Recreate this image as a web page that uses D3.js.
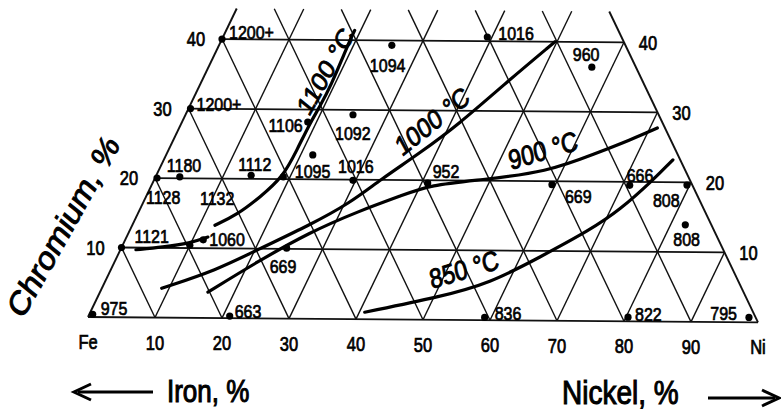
<!DOCTYPE html>
<html>
<head>
<meta charset="utf-8">
<script src="https://cdn.jsdelivr.net/npm/d3@7"></script>
<style>
  body { margin: 0; background: #fff; }
  text { font-family: "Liberation Sans", Arial, sans-serif; fill: #000; stroke: #000; stroke-width: 0.6; }
  .title { stroke-width: 0.9; }
  .iso { stroke-width: 0.8; }
</style>
</head>
<body>
<div id="app"></div>
<script>
// grid of the ternary diagram (percent)
const gridSteps = [10, 20, 30, 40, 50, 60, 70, 80, 90];
const crLevels = [10, 20, 30, 40];
const crTop = 44.4;

// tick labels
const bottomTickNi = [0, 10, 20, 30, 40, 50, 60, 70, 80, 90, 100];
const bottomTicks = ["Fe", "10", "20", "30", "40", "50", "60", "70", "80", "90", "Ni"];
const sideTicks = [10, 20, 30, 40];

// measured alloys: nickel %, chromium %, temperature label
const pointNi = [0.5, 21, 59, 80.3, 98.3, 0, 11.6, 10, 24.6, 0.3, 3.6, 14.1, 10, 0.3, 0, 18.7, 24.9, 25.7, 21.8, 29.6, 39.3, 57.0, 40.9, 59.5, 71.1, 79.6, 82.2, 19];
const pointCr = [0.4, 0.3, 0.4, 0.6, 0.7, 10, 11.2, 10.4, 10.1, 20, 20.2, 20.5, 20, 30, 40, 28.2, 29.3, 39.3, 23.5, 19.9, 40.6, 36.4, 19.6, 19.5, 19.5, 19.6, 13.9, 20.3];
const pointTemp = ["975", "663", "836", "822", "795", "1121", "1060", "", "669", "1128", "1180", "1112", "1132", "1200+", "1200+", "1106", "1092", "1094", "1095", "1016", "1016", "960", "952", "669", "666", "808", "808", ""];
const pointMarked = [1, 1, 1, 1, 1, 1, 1, 1, 1, 1, 1, 1, 0, 1, 1, 1, 1, 1, 1, 1, 1, 1, 1, 1, 1, 1, 1, 1];

// isotherms: [nickel %, chromium %]
const iso1100a = [[2.3, 9.7], [6.1, 10.1], [9.9, 10.7], [12.1, 11.6]];
const iso1100b = [[12.3, 13.3], [14.8, 14.8], [17.0, 17.4], [18.95, 20.3], [19.1, 24.2], [19.1, 28.1], [19.4, 30.4], [19.5, 33.8], [19.3, 37.1], [19.1, 40.0], [19.1, 41.4]];
const iso1000 = [[8.9, 4.2], [15.8, 6.9], [20.3, 9.8], [26.4, 13.45], [30.8, 16.65], [33.6, 20.0], [37.6, 23.9], [41.4, 28.2], [45.1, 33.7], [49.7, 40.0]];
const iso900 = [[16.05, 3.7], [21.2, 8.1], [26.9, 12.4], [32.5, 15.4], [38.1, 17.85], [41.4, 19.3], [48.5, 20.1], [57.85, 21.3], [63.9, 24.1], [67.9, 26.0], [71.1, 27.75]];
const iso850 = [[40.8, 1.0], [50.9, 3.3], [57.3, 5.3], [62.9, 9.1], [68.4, 13.05], [71.4, 15.95], [74.2, 20.3], [75.7, 23.2]];
const isoCurves = [iso1100a, iso1100b, iso1000, iso900, iso850];
const isoText = ["1100 °C", "1000 °C", "900 °C", "850 °C"];

// label placement (pixels)
const pointLabelOffset = [[8, 1], [5, 2], [10, 3], [7, 4], [-12, 3, "end"], [13, -5], [6, 6], null, [-17, 25], [-11, 26], [-13, -5], [-13, -4], [-22, 26], [6, 2], [7, 0], [-5, 10, "end"], [-18, 25], [-22, 27], [-18, 23], [-15, -7], [11, 3], [-19, -6], [5, -5], [13, 18], [-3, -3], [-34, 22], [-12, 21], null];
const isoLayout = [{x: 325, y: 71, a: -56}, {x: 432, y: 121, a: -33.7}, {x: 543, y: 150, a: -14}, {x: 464, y: 269, a: -14}];

const stretch = 1.2;

let svg = d3.select("#app")
.append("svg")
    .attr("width", 781)
    .attr("height", 415)

// composition -> page
let xs = d3.scaleLinear().domain([0, 100]).range([88, 758]);
let ys = d3.scaleLinear().domain([0, 40]).range([317, 38]);
const tilt = 0.008;
function P(ni, cr) {
    let x = xs(ni + cr / 2);
    return [x, ys(cr) + tilt * (x - xs(0))];
}

function stretchedText(g, x, y, rot, str, size) {
    return g.append("g")
        .attr("transform", `translate(${x},${y}) scale(1,${stretch}) rotate(${rot})`)
        .append("text")
        .style("font-size", size + "px")
        .text(str);
}

// grid lines
let segs = [];
crLevels.forEach(c => segs.push({a: [0, c], b: [100 - c, c], w: 1.8}));
gridSteps.forEach(k => {
    segs.push({a: [k, 0], b: [k, Math.min(100 - k, crTop)], w: 1.4});
    segs.push({a: [k, 0], b: [Math.max(k - crTop, 0), Math.min(k, crTop)], w: 1.4});
});
segs.push({a: [0, 0], b: [0, crTop], w: 1.9});
segs.push({a: [100, 0], b: [100 - crTop, crTop], w: 1.9});
segs.push({a: [0, 0], b: [100, 0], w: 1.9});

svg.append("g").selectAll("line")
    .data(segs)
    .enter()
    .append("line")
        .attr("x1", d => P(...d.a)[0])
        .attr("y1", d => P(...d.a)[1])
        .attr("x2", d => P(...d.b)[0])
        .attr("y2", d => P(...d.b)[1])
        .attr("stroke", "#111")
        .attr("stroke-width", d => d.w)

// isotherms
let line = d3.line()
    .x(d => P(d[0], d[1])[0])
    .y(d => P(d[0], d[1])[1])
    .curve(d3.curveBasis);
svg.append("g").selectAll("path")
    .data(isoCurves)
    .enter()
    .append("path")
        .attr("d", line)
        .attr("fill", "none")
        .attr("stroke", "#000")
        .attr("stroke-width", 3.2)
        .attr("stroke-linecap", "round")

// points
let points = pointNi.map((n, i) => ({ni: n, cr: pointCr[i], t: pointTemp[i], m: pointMarked[i], off: pointLabelOffset[i]}));
svg.append("g").selectAll("circle")
    .data(points.filter(d => d.m))
    .enter()
    .append("circle")
        .attr("cx", d => P(d.ni, d.cr)[0])
        .attr("cy", d => P(d.ni, d.cr)[1])
        .attr("r", 3.6)
        .attr("fill", "#000")

let labels = svg.append("g");
points.filter(d => d.t && d.off).forEach(d => {
    let p = P(d.ni, d.cr);
    stretchedText(labels, p[0] + d.off[0], p[1] + d.off[1], 0, d.t, 16)
        .attr("text-anchor", d.off[2] || "start");
});

// isotherm labels
isoText.forEach((t, i) => {
    let l = isoLayout[i];
    stretchedText(svg, l.x, l.y, l.a, t, 23)
        .attr("class", "iso")
        .attr("text-anchor", "middle")
        .attr("dy", "0.36em");
});

// tick labels
bottomTicks.forEach((t, i) => {
    let p = P(bottomTickNi[i], 0);
    stretchedText(svg, p[0], p[1] + 32, 0, t, 16.5).attr("text-anchor", "middle");
});
sideTicks.forEach(c => {
    let l = P(0, c), r = P(100 - c, c);
    stretchedText(svg, l[0] - 26, l[1] + 7, 0, c, 16.5).attr("text-anchor", "middle");
    stretchedText(svg, r[0] + 24, r[1] + 8, 0, c, 16.5).attr("text-anchor", "middle");
});

// axis titles
stretchedText(svg, 63, 226, -56, "Chromium, %", 29)
    .attr("class", "title")
    .attr("text-anchor", "middle")
    .attr("dy", "0.36em");
stretchedText(svg, 167, 402, 0, "Iron, %", 26).attr("class", "title");
stretchedText(svg, 562, 404, 0, "Nickel, %", 28).attr("class", "title");

// arrows
let arrows = svg.append("g").attr("stroke", "#000").attr("stroke-width", 3).attr("fill", "none");
arrows.append("line").attr("x1", 78).attr("y1", 392).attr("x2", 153).attr("y2", 392);
arrows.append("path").attr("d", "M91,384 L74,392 L91,400").attr("stroke-linejoin", "miter");
arrows.append("line").attr("x1", 708).attr("y1", 398).attr("x2", 775).attr("y2", 398);
arrows.append("path").attr("d", "M762,390 L779,398 L762,406").attr("stroke-linejoin", "miter");
</script>
</body>
</html>
